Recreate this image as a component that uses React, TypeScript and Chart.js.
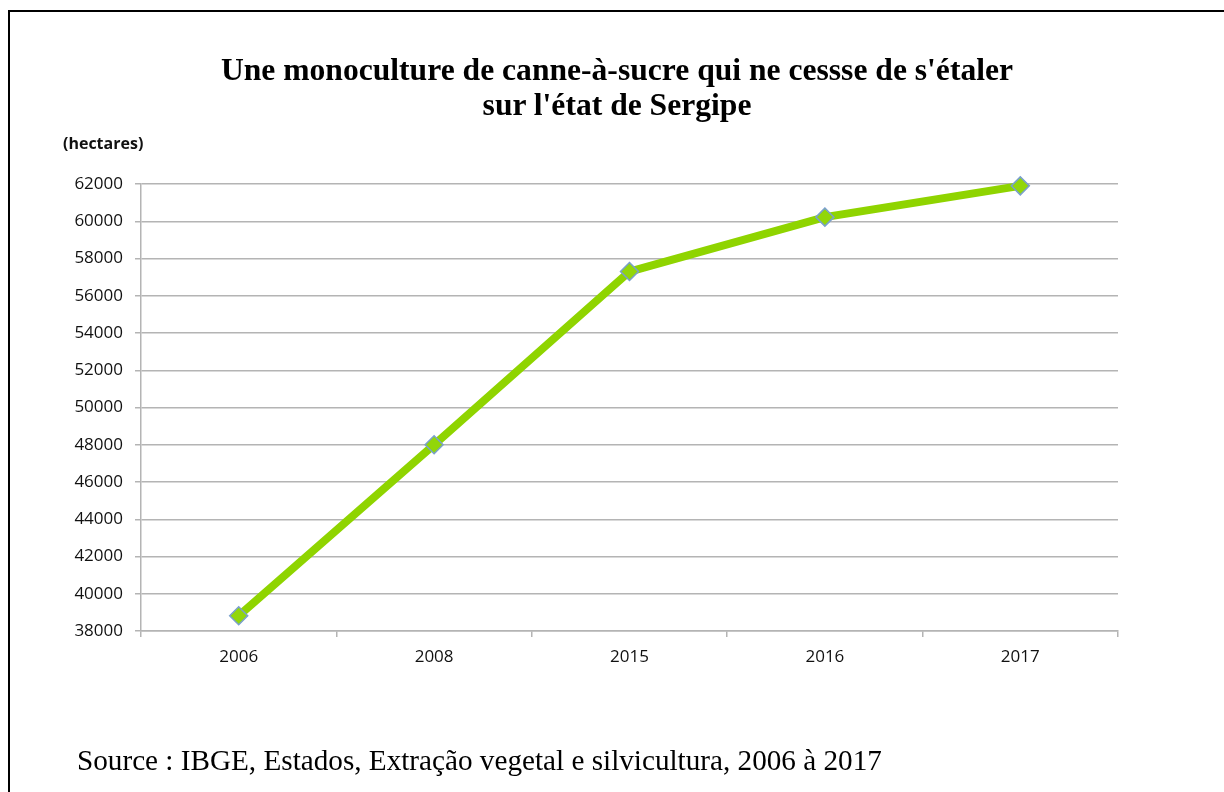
import React, { useEffect, useRef } from "react";
import { Chart, registerables } from "chart.js";

Chart.register(...registerables);

const years = ["2006", "2008", "2015", "2016", "2017"];
const hectares = [38820, 48000, 57300, 60220, 61900];
const yMin = 38000;
const yMax = 62000;
const yStep = 2000;

const titleLines = [
  "Une monoculture de canne-à-sucre qui ne cessse de s'étaler",
  "sur l'état de Sergipe",
];
const unitLabel = "(hectares)";
const sourceText = "Source : IBGE, Estados, Extração vegetal e silvicultura, 2006 à 2017";

const W = 1224;
const H = 792;

export default function App() {
  const ref = useRef<HTMLCanvasElement | null>(null);

  useEffect(() => {
    const canvas = ref.current;
    if (!canvas) return;
    const gridColor = "#b4b4b4";
    const chart = new Chart(canvas, {
      type: "line",
      data: {
        labels: years,
        datasets: [
          {
            data: hectares,
            borderColor: "#8fd400",
            borderWidth: 8,
            pointStyle: "rectRot",
            pointRadius: 9,
            pointBorderWidth: 1.5,
            pointBackgroundColor: "#92d60a",
            pointBorderColor: "#7aa0cc",
            tension: 0,
            clip: false,
          },
        ],
      },
      options: {
        responsive: false,
        animation: false,
        devicePixelRatio: 1,
        layout: { padding: { left: 0, right: W - 1118, top: 184, bottom: H - 631 - 40 } },
        plugins: {
          legend: { display: false },
          tooltip: { enabled: false },
          title: { display: false },
        },
        scales: {
          x: {
            offset: true,
            grid: {
              offset: true,
              drawOnChartArea: false,
              drawTicks: true,
              tickLength: 6,
              color: gridColor,
              lineWidth: 1.5,
            },
            border: { color: gridColor, width: 1.5 },
            ticks: {
              color: "#111",
              padding: 10,
              font: { family: "'Open Sans'", size: 17 },
            },
            afterFit: (s: any) => {
              s.height = 40;
            },
          },
          y: {
            min: yMin,
            max: yMax,
            grid: {
              color: gridColor,
              lineWidth: 1.5,
              tickLength: 6,
            },
            border: { color: gridColor, width: 1.5 },
            ticks: {
              stepSize: yStep,
              color: "#111",
              padding: 12,
              font: { family: "'Open Sans'", size: 17 },
              callback: (v: any) => String(v),
            },
            afterFit: (s: any) => {
              s.width = 141;
            },
          },
        },
      },
    });
    return () => chart.destroy();
  }, []);

  return (
    <div style={{ position: "fixed", left: 0, top: 0, width: W, height: H, background: "#fff", overflow: "hidden" }}>
      <div
        style={{
          position: "absolute",
          left: 8,
          top: 10,
          width: W - 8,
          height: H - 10,
          borderTop: "2px solid #000",
          borderLeft: "2px solid #000",
          boxSizing: "border-box",
        }}
      />
      <canvas ref={ref} width={W} height={H} style={{ position: "absolute", left: 0, top: 0 }} />
      <div
        style={{
          position: "absolute",
          left: 10,
          width: W - 10,
          top: 52,
          textAlign: "center",
          fontFamily: "'Liberation Serif', 'Times New Roman', serif",
          fontWeight: "bold",
          fontSize: 31.6,
          lineHeight: "35px",
          color: "#000",
          whiteSpace: "nowrap",
        }}
      >
        {titleLines.map((t, i) => (
          <div key={i}>{t}</div>
        ))}
      </div>
      <div
        style={{
          position: "absolute",
          left: 63,
          top: 132,
          fontFamily: "'Open Sans', sans-serif",
          fontWeight: "bold",
          fontSize: 16,
          lineHeight: "22px",
          color: "#111",
        }}
      >
        {unitLabel}
      </div>
      <div
        style={{
          position: "absolute",
          left: 77,
          top: 744,
          fontFamily: "'Liberation Serif', 'Times New Roman', serif",
          fontSize: 29.2,
          lineHeight: "32px",
          color: "#000",
          whiteSpace: "nowrap",
        }}
      >
        {sourceText}
      </div>
    </div>
  );
}
